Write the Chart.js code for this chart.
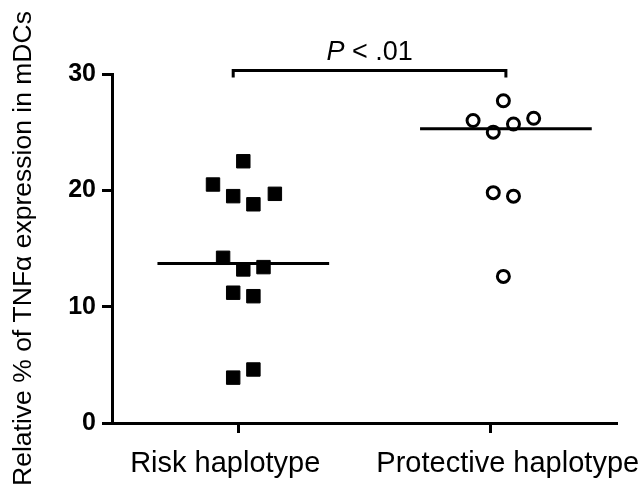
<!DOCTYPE html>
<html>
<head>
<meta charset="utf-8">
<script src="https://cdn.jsdelivr.net/npm/chart.js@4.4.0/dist/chart.umd.min.js"></script>
<style>
  html, body { margin: 0; padding: 0; background: #fff; }
</style>
</head>
<body>
<canvas id="chart" width="642" height="495"></canvas>
<script>
// ── DATA ──
const categories = ['Risk haplotype', 'Protective haplotype'];
const yTicks = [0, 10, 20, 30];
const yTitle = 'Relative % of TNFα expression in mDCs';

// scatter jitter (offset from category centre) and values
const riskX = [0.02, -0.10, -0.02, 0.06, 0.145, -0.06, 0.02, 0.10, -0.02, 0.06, -0.02, 0.06];
const riskY = [22.5, 20.5, 19.5, 18.8, 19.7, 14.2, 13.2, 13.4, 11.2, 10.9, 3.9, 4.6];
const protX = [0.05, -0.07, 0.01, 0.09, 0.17, 0.01, 0.09, 0.05];
const protY = [27.7, 26.0, 25.0, 25.7, 26.2, 19.8, 19.5, 12.6];

// median bars
const medians = [13.7, 25.3];
const medianCenter = [0.02, 0.06];
const medianHalf = 0.34;

// significance bracket
const bracketX = [-0.02, 1.06];
const bracketY = 30.3;
const pText = ['P', ' < .01'];

const FONT = "'Liberation Sans', Arial, sans-serif";
const labelShift = [-13, 17];   // category labels sit slightly off their ticks

function pts(xs, ys, cat) {
  return xs.map((x, i) => ({ x: cat + x, y: ys[i] }));
}

function medianLine(i) {
  return {
    type: 'scatter',
    data: [
      { x: i + medianCenter[i] - medianHalf, y: medians[i] },
      { x: i + medianCenter[i] + medianHalf, y: medians[i] }
    ],
    showLine: true,
    borderColor: '#000',
    borderWidth: 3,
    pointRadius: 0,
    clip: false,
    order: 2
  };
}

// ── BRACKET, P VALUE, CATEGORY LABELS ──
const annotatePlugin = {
  id: 'annotate',
  afterDraw(chart) {
    const { ctx, scales: { x, y } } = chart;
    const x1 = x.getPixelForValue(bracketX[0]);
    const x2 = x.getPixelForValue(bracketX[1]);
    const yy = y.getPixelForValue(bracketY);
    ctx.save();
    ctx.strokeStyle = '#000';
    ctx.lineWidth = 3;
    ctx.beginPath();
    ctx.moveTo(x1, yy + 7);
    ctx.lineTo(x1, yy);
    ctx.lineTo(x2, yy);
    ctx.lineTo(x2, yy + 7);
    ctx.stroke();

    ctx.fillStyle = '#000';
    ctx.textBaseline = 'alphabetic';
    ctx.textAlign = 'left';
    ctx.font = 'italic 27px ' + FONT;
    const w1 = ctx.measureText(pText[0]).width;
    ctx.font = '27px ' + FONT;
    const w2 = ctx.measureText(pText[1]).width;
    const start = (x1 + x2) / 2 - (w1 + w2) / 2;
    ctx.font = 'italic 27px ' + FONT;
    ctx.fillText(pText[0], start, yy - 11);
    ctx.font = '27px ' + FONT;
    ctx.fillText(pText[1], start + w1, yy - 11);

    // category labels under the ticks
    ctx.font = '29px ' + FONT;
    ctx.textAlign = 'center';
    categories.forEach((c, i) => {
      ctx.fillText(c, x.getPixelForValue(i) + labelShift[i], x.top + 49);
    });
    ctx.restore();
  }
};

// ── CHART ──
new Chart(document.getElementById('chart'), {
  type: 'scatter',
  data: {
    datasets: [
      {
        data: pts(riskX, riskY, 0),
        pointStyle: 'rect',
        pointRadius: 9.5,
        pointBackgroundColor: '#000',
        pointBorderColor: '#000',
        pointBorderWidth: 1,
        clip: false,
        order: 1
      },
      {
        data: pts(protX, protY, 1),
        pointStyle: 'circle',
        pointRadius: 6,
        pointBackgroundColor: 'rgba(0,0,0,0)',
        pointBorderColor: '#000',
        pointBorderWidth: 3,
        clip: false,
        order: 1
      },
      medianLine(0),
      medianLine(1)
    ]
  },
  options: {
    responsive: false,
    animation: false,
    devicePixelRatio: 1,
    layout: { padding: { top: 74, right: 25, bottom: 0, left: 0 } },
    plugins: { legend: { display: false }, tooltip: { enabled: false } },
    scales: {
      x: {
        type: 'linear',
        min: -0.5,
        max: 1.5,
        afterBuildTicks: s => { s.ticks = categories.map((c, i) => ({ value: i })); },
        afterFit: s => { s.height = 72; },
        ticks: {
          callback: () => '',
          maxRotation: 0
        },
        grid: {
          drawOnChartArea: false,
          drawTicks: true,
          tickLength: 10,
          tickWidth: 3,
          tickColor: '#000',
          color: '#000'
        },
        border: { display: true, color: '#000', width: 3 }
      },
      y: {
        min: 0,
        max: 30,
        afterBuildTicks: s => { s.ticks = yTicks.map(v => ({ value: v })); },
        afterFit: s => { s.width = 112; },
        ticks: {
          color: '#000',
          font: { family: FONT, size: 25, weight: 'bold' },
          padding: 6
        },
        grid: {
          drawOnChartArea: false,
          drawTicks: true,
          tickLength: 10,
          tickWidth: 3,
          tickColor: '#000',
          color: '#000'
        },
        border: { display: true, color: '#000', width: 3 },
        title: {
          display: true,
          text: yTitle,
          color: '#000',
          font: { family: FONT, size: 26.5 },
          padding: { top: 8, bottom: 0 }
        }
      }
    }
  },
  plugins: [annotatePlugin]
});
</script>
</body>
</html>
